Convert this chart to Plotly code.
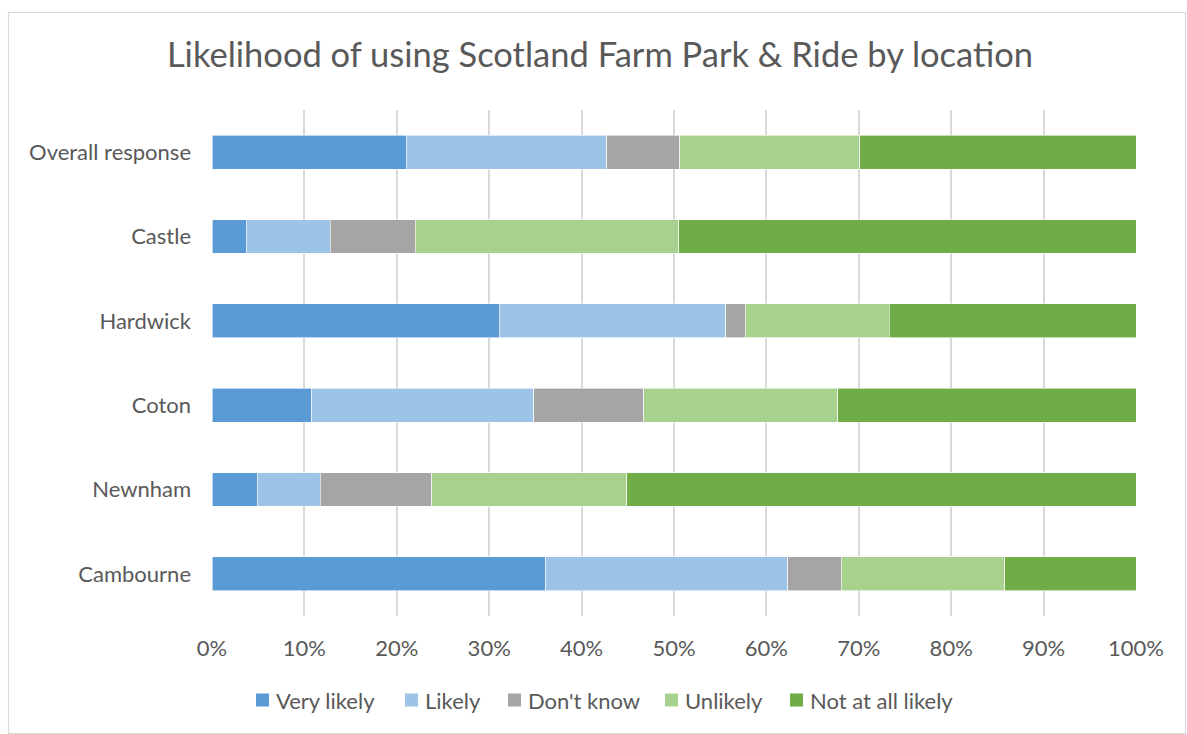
import plotly.graph_objects as go

locations = ["Overall response", "Castle", "Hardwick", "Coton", "Newnham", "Cambourne"]

very_likely = [21.0, 3.7, 31.1, 10.8, 4.9, 36.1]
likely = [21.7, 9.1, 24.5, 24.0, 6.8, 26.2]
dont_know = [7.9, 9.2, 2.1, 11.9, 12.1, 5.8]
unlikely = [19.5, 28.5, 15.6, 21.0, 21.1, 17.7]
not_at_all = [29.9, 49.5, 26.7, 32.3, 55.1, 14.2]

series = [
    ("Very likely", very_likely, "#5B9BD5"),
    ("Likely", likely, "#9DC3E6"),
    ("Don't know", dont_know, "#A5A5A5"),
    ("Unlikely", unlikely, "#A9D18E"),
    ("Not at all likely", not_at_all, "#70AD47"),
]

FONT = "Lato"
GREY = "#595959"

fig = go.Figure()
for name, vals, color in series:
    fig.add_trace(go.Bar(
        y=locations,
        x=[v / 100 for v in vals],
        name=name,
        orientation="h",
        marker=dict(color=color, line=dict(color="white", width=0.6)),
        hoverinfo="skip",
        showlegend=False,
    ))

W, H = 1187, 734
ML, MR, MT, MB = 212, 51, 110, 118
pw, ph = W - ML - MR, H - MT - MB


def px_x(x):
    return (x - ML) / pw


def px_y(y):
    return (H - MB - y) / ph


# chart frame
shapes = [
    dict(
        type="rect", xref="paper", yref="paper",
        x0=px_x(8.5), x1=px_x(1185.5), y0=px_y(733.5), y1=px_y(12.5),
        line=dict(color="#D9D9D9", width=1.2),
        fillcolor="rgba(0,0,0,0)", layer="below",
    )
]
annotations = []

# legend row: coloured square followed by its label
legend_left = [256, 405, 508, 665, 790]
legend_mid = 700
box = 13
for (name, _, color), lx in zip(series, legend_left):
    shapes.append(dict(
        type="rect", xref="paper", yref="paper",
        x0=px_x(lx), x1=px_x(lx + box),
        y0=px_y(legend_mid + box / 2), y1=px_y(legend_mid - box / 2),
        line=dict(width=0), fillcolor=color,
    ))
    annotations.append(dict(
        xref="paper", yref="paper",
        x=px_x(lx + box + 5), y=px_y(legend_mid),
        xanchor="left", yanchor="middle",
        text=name, showarrow=False,
        font=dict(family=FONT, size=22, color=GREY),
    ))

fig.update_layout(
    width=W,
    height=H,
    margin=dict(l=ML, r=MR, t=MT, b=MB),
    barmode="stack",
    bargap=0.6,
    paper_bgcolor="white",
    plot_bgcolor="white",
    font=dict(family=FONT, color=GREY, size=22),
    showlegend=False,
    title=dict(
        text="Likelihood of using Scotland Farm Park & Ride by location",
        x=600 / W,
        xanchor="center",
        xref="container",
        y=1 - 55 / H,
        yanchor="middle",
        font=dict(family=FONT, size=34.5, color=GREY),
    ),
    xaxis=dict(
        range=[0, 1],
        tickvals=[i / 10 for i in range(11)],
        ticktext=[f"{i * 10}%" for i in range(11)],
        showgrid=True,
        gridcolor="#D9D9D9",
        gridwidth=1.5,
        zeroline=False,
        showline=False,
        ticks="",
        ticklabelstandoff=17,
        tickfont=dict(size=22, color=GREY),
    ),
    yaxis=dict(
        autorange="reversed",
        showgrid=False,
        zeroline=False,
        showline=False,
        ticks="",
        ticklabelstandoff=20,
        tickfont=dict(size=22, color=GREY),
    ),
    shapes=shapes,
    annotations=annotations,
)

fig.write_html("out.html")
